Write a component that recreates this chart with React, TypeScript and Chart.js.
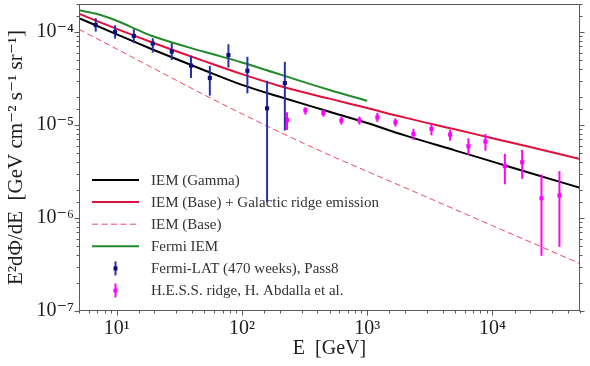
import React, { useEffect, useRef } from 'react';
import { Chart, registerables } from 'chart.js';

Chart.register(...registerables);

// ---- model curves (energy in GeV, E^2 dPhi/dE in GeV cm^-2 s^-1 sr^-1)
const lineEnergies = [5, 10, 20, 50, 100, 200, 500, 1000, 2000, 5000, 10000, 20000, 50000];
const iemGamma = [1.41e-4, 0.944e-4, 0.637e-4, 3.88e-5, 2.70e-5, 2.01e-5, 1.39e-5, 1.05e-5, 7.73e-6, 5.34e-6, 4.04e-6, 3.05e-6, 2.11e-6];
const iemBaseRidge = [1.57e-4, 1.08e-4, 7.57e-5, 4.86e-5, 3.52e-5, 2.63e-5, 1.92e-5, 1.52e-5, 1.20e-5, 9.0e-6, 7.21e-6, 5.79e-6, 4.31e-6];
const iemBase = [1.07e-4, 6.57e-5, 4.02e-5, 2.11e-5, 1.32e-5, 8.39e-6, 4.75e-6, 3.17e-6, 2.12e-6, 1.24e-6, 8.26e-7, 5.52e-7, 3.23e-7];
const fermiIemEnergies = [5, 7, 10, 15, 20, 50, 100, 200, 500, 1000];
const fermiIem = [1.71e-4, 1.56e-4, 1.32e-4, 1.04e-4, 0.888e-4, 6.12e-5, 4.7e-5, 3.5e-5, 2.38e-5, 1.82e-5];

// ---- Fermi-LAT data points
const latE = [6.8, 9.7, 13.7, 19.4, 27.5, 39.2, 55.4, 78, 110.5, 158.7, 220];
const latF = [1.19e-4, 1.0e-4, 0.908e-4, 0.752e-4, 0.617e-4, 0.436e-4, 0.320e-4, 0.564e-4, 0.383e-4, 1.51e-5, 2.82e-5];
const latHi = [1.41e-4, 1.18e-4, 1.07e-4, 0.857e-4, 0.759e-4, 0.555e-4, 0.432e-4, 0.739e-4, 0.541e-4, 2.99e-5, 4.78e-5];
const latLo = [1.01e-4, 0.85e-4, 0.76e-4, 0.60e-4, 0.499e-4, 0.32e-4, 0.207e-4, 0.415e-4, 0.219e-4, 1.48e-6, 0.87e-5];

// ---- H.E.S.S. ridge data points
const hessE = [229, 321, 447, 622, 866, 1205, 1680, 2339, 3258, 4590, 6430, 8790, 12560, 17270, 24620, 34270];
const hessF = [1.13e-5, 1.44e-5, 1.35e-5, 1.12e-5, 1.12e-5, 1.21e-5, 1.07e-5, 8.02e-6, 9.08e-6, 7.89e-6, 5.91e-6, 6.64e-6, 3.61e-6, 3.98e-6, 1.63e-6, 1.75e-6];
const hessHi = [1.37e-5, 1.55e-5, 1.46e-5, 1.23e-5, 1.23e-5, 1.35e-5, 1.18e-5, 9.08e-6, 1.03e-5, 8.85e-6, 7.2e-6, 8.0e-6, 4.9e-6, 5.4e-6, 2.94e-6, 3.19e-6];
const hessLo = [0.885e-5, 1.29e-5, 1.23e-5, 1.01e-5, 1.01e-5, 1.08e-5, 0.96e-5, 6.92e-6, 7.75e-6, 6.8e-6, 4.78e-6, 5.3e-6, 2.3e-6, 2.64e-6, 3.92e-7, 4.89e-7];

// ---- axis ranges
const xRange = [5, 5e4];
const yRange = [1e-7, 2e-4];

const legendLabels = [
  'IEM (Gamma)',
  'IEM (Base) + Galactic ridge emission',
  'IEM (Base)',
  'Fermi IEM',
  'Fermi-LAT (470 weeks), Pass8',
  'H.E.S.S. ridge, H. Abdalla et al.',
];

const SUP: Record<string, string> = {
  '-': '\u207B', '0': '\u2070', '1': '\u00B9', '2': '\u00B2', '3': '\u00B3',
  '4': '\u2074', '5': '\u2075', '6': '\u2076', '7': '\u2077', '8': '\u2078', '9': '\u2079',
};

const isPow10 = (v: number) => {
  const l = Math.log10(v);
  return Math.abs(l - Math.round(l)) < 1e-6;
};
const pow10Label = (v: any) => {
  const n = Number(v);
  if (!isPow10(n)) return '';
  const r = Math.round(Math.log10(n));
  return '10' + String(r).split('').map((c) => SUP[c]).join('');
};

const FONT = "'Liberation Serif', 'DejaVu Serif', serif";
const TEXT = '#1e1e1e';
const AXIS = '#5a5a5a';

const errorBarPlugin = {
  id: 'errorBars',
  beforeDatasetDraw(chart: any, args: any) {
    const ds = chart.data.datasets[args.index];
    if (!ds.errLo) return;
    const xs = chart.scales.x;
    const ys = chart.scales.y;
    const ctx = chart.ctx;
    const a = chart.chartArea;
    ctx.save();
    ctx.beginPath();
    ctx.rect(a.left, a.top, a.right - a.left, a.bottom - a.top);
    ctx.clip();
    ctx.strokeStyle = ds.errColor;
    ctx.lineWidth = ds.errWidth;
    ds.data.forEach((p: any, i: number) => {
      const px = xs.getPixelForValue(p.x);
      ctx.beginPath();
      ctx.moveTo(px, ys.getPixelForValue(ds.errHi[i]));
      ctx.lineTo(px, ys.getPixelForValue(ds.errLo[i]));
      ctx.stroke();
    });
    ctx.restore();
  },
};

const framePlugin = {
  id: 'frameTicks',
  afterDraw(chart: any) {
    const ctx = chart.ctx;
    const a = chart.chartArea;
    ctx.save();
    ctx.strokeStyle = AXIS;
    ctx.lineWidth = 1;
    ctx.strokeRect(Math.round(a.left) + 0.5, Math.round(a.top) + 0.5, Math.round(a.right - a.left) - 1, Math.round(a.bottom - a.top) - 1);
    const xs = chart.scales.x;
    const ys = chart.scales.y;
    const bottom = Math.round(a.bottom) - 0.5;
    const left = Math.round(a.left) + 0.5;
    const right = Math.round(a.right) - 0.5;
    ctx.beginPath();
    xs.ticks.forEach((t: any) => {
      const px = Math.round(xs.getPixelForValue(t.value)) + 0.5;
      if (px < a.left - 1 || px > a.right + 1) return;
      const len = isPow10(t.value) ? 5 : 3;
      ctx.moveTo(px, bottom);
      ctx.lineTo(px, bottom + len);
    });
    ys.ticks.forEach((t: any) => {
      const py = Math.round(ys.getPixelForValue(t.value)) + 0.5;
      if (py < a.top - 1 || py > a.bottom + 1) return;
      const len = isPow10(t.value) ? 5 : 3;
      ctx.moveTo(left, py);
      ctx.lineTo(left - len, py);
      ctx.moveTo(right, py);
      ctx.lineTo(right + len, py);
    });
    ctx.stroke();
    ctx.restore();
  },
};

const legendPlugin = {
  id: 'customLegend',
  afterDraw(chart: any) {
    const ctx = chart.ctx;
    const a = chart.chartArea;
    const x0 = a.left + 13;
    const x1 = a.left + 60;
    const tx = a.left + 72;
    const y0 = a.top + 176;
    const dy = 22.1;
    ctx.save();
    chart.data.datasets.forEach((ds: any) => {
      const k = ds.legendIndex;
      const y = y0 + k * dy;
      if (ds.showLine !== false) {
        ctx.strokeStyle = ds.borderColor;
        ctx.lineWidth = ds.borderWidth;
        ctx.setLineDash(ds.borderDash || []);
        ctx.beginPath();
        ctx.moveTo(x0, y);
        ctx.lineTo(x1, y);
        ctx.stroke();
        ctx.setLineDash([]);
      } else {
        const cx = (x0 + x1) / 2;
        ctx.strokeStyle = ds.errColor;
        ctx.lineWidth = ds.errWidth;
        ctx.beginPath();
        ctx.moveTo(cx, y - 7);
        ctx.lineTo(cx, y + 7);
        ctx.stroke();
        ctx.fillStyle = ds.backgroundColor;
        ctx.fillRect(cx - 2, y - 2, 4, 4);
      }
      ctx.fillStyle = '#333';
      ctx.font = `15px ${FONT}`;
      ctx.textBaseline = 'middle';
      ctx.textAlign = 'left';
      ctx.fillText(legendLabels[k], tx, y + 1);
    });
    ctx.restore();
  },
};

export default function App() {
  const ref = useRef<HTMLCanvasElement | null>(null);

  useEffect(() => {
    if (!ref.current) return;
    Chart.defaults.font.family = FONT;
    const toXY = (xs: number[], ys: number[]) => xs.map((x, i) => ({ x, y: ys[i] }));
    const chart = new Chart(ref.current, {
      type: 'line',
      data: {
        datasets: [
          {
            label: legendLabels[4],
            legendIndex: 4,
            data: toXY(latE, latF),
            errLo: latLo,
            errHi: latHi,
            errColor: '#2433a8',
            errWidth: 2,
            showLine: false,
            pointStyle: 'rect',
            pointRadius: 2.9,
            backgroundColor: '#0c0c82',
            borderWidth: 0,
            order: 0,
          } as any,
          {
            label: legendLabels[5],
            legendIndex: 5,
            data: toXY(hessE, hessF),
            errLo: hessLo,
            errHi: hessHi,
            errColor: '#ff00ff',
            errWidth: 2,
            showLine: false,
            pointStyle: 'rect',
            pointRadius: 2.9,
            backgroundColor: '#ff00ff',
            borderWidth: 0,
            order: 0,
          } as any,
          {
            label: legendLabels[0],
            legendIndex: 0,
            data: toXY(lineEnergies, iemGamma),
            borderColor: '#000000',
            borderWidth: 2,
            pointRadius: 0,
            cubicInterpolationMode: 'monotone',
            order: 1,
          } as any,
          {
            label: legendLabels[1],
            legendIndex: 1,
            data: toXY(lineEnergies, iemBaseRidge),
            borderColor: '#e0103c',
            borderWidth: 2,
            pointRadius: 0,
            cubicInterpolationMode: 'monotone',
            order: 1,
          } as any,
          {
            label: legendLabels[2],
            legendIndex: 2,
            data: toXY(lineEnergies, iemBase),
            borderColor: '#ec4766',
            borderWidth: 1,
            borderDash: [6, 3.5],
            pointRadius: 0,
            cubicInterpolationMode: 'monotone',
            order: 1,
          } as any,
          {
            label: legendLabels[3],
            legendIndex: 3,
            data: toXY(fermiIemEnergies, fermiIem),
            borderColor: '#23892a',
            borderWidth: 2,
            pointRadius: 0,
            cubicInterpolationMode: 'monotone',
            order: 1,
          } as any,
        ],
      },
      options: {
        responsive: false,
        animation: false,
        events: [],
        layout: { padding: { top: 3, left: 0, right: 0, bottom: 0 } },
        plugins: { legend: { display: false }, tooltip: { enabled: false } },
        scales: {
          x: {
            type: 'logarithmic',
            position: 'bottom',
            min: xRange[0],
            max: xRange[1],
            grid: { display: false, drawTicks: false },
            border: { display: false },
            ticks: {
              autoSkip: false,
              maxRotation: 0,
              padding: 6,
              color: TEXT,
              font: { size: 20 },
              callback: pow10Label,
            },
            title: {
              display: true,
              text: 'E  [GeV]',
              color: TEXT,
              font: { size: 20 },
              padding: { top: 0, bottom: 5 },
            },
            afterFit: (s: any) => {
              s.height = 55;
              s.paddingLeft = 0;
              s.paddingRight = 0;
            },
          },
          y: {
            type: 'logarithmic',
            position: 'left',
            min: yRange[0],
            max: yRange[1],
            grid: { display: false, drawTicks: false },
            border: { display: false },
            ticks: {
              autoSkip: false,
              padding: 5,
              color: TEXT,
              font: { size: 20 },
              callback: pow10Label,
            },
            title: {
              display: true,
              text: 'E\u00B2d\u03A6/dE  [GeV cm\u207B\u00B2 s\u207B\u00B9 sr\u207B\u00B9]',
              color: TEXT,
              font: { size: 21 },
              padding: { top: 4, bottom: 0 },
            },
            afterFit: (s: any) => {
              s.width = 79;
              s.paddingTop = 0;
              s.paddingBottom = 0;
            },
          },
          y2: {
            type: 'logarithmic',
            position: 'right',
            min: yRange[0],
            max: yRange[1],
            grid: { display: false, drawTicks: false },
            border: { display: false },
            ticks: { display: false },
            afterFit: (s: any) => {
              s.width = 10;
              s.paddingTop = 0;
              s.paddingBottom = 0;
            },
          },
        },
      } as any,
      plugins: [errorBarPlugin, framePlugin, legendPlugin],
    });
    return () => chart.destroy();
  }, []);

  return (
    <div style={{ position: 'fixed', left: 0, top: 0, width: 590, height: 366, background: '#fff' }}>
      <canvas ref={ref} width={590} height={366} style={{ display: 'block' }} />
    </div>
  );
}
